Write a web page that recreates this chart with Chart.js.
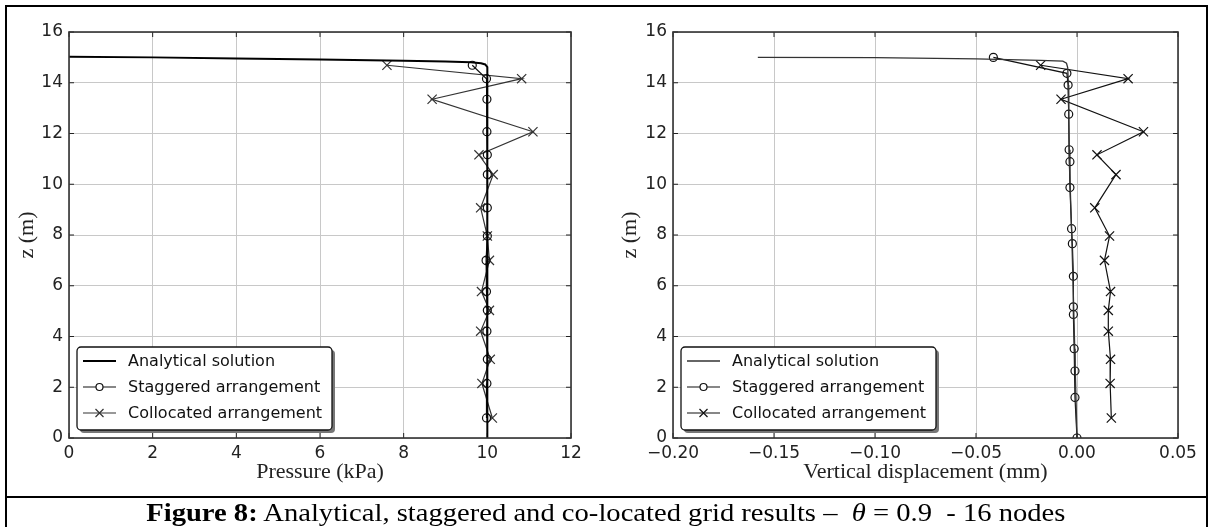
<!DOCTYPE html>
<html>
<head>
<meta charset="utf-8">
<script src="https://cdn.jsdelivr.net/npm/chart.js@4.4.1/dist/chart.umd.min.js"></script>
<style>
  html, body { margin: 0; padding: 0; background: #fff; }
  body { width: 1212px; height: 527px; position: relative; overflow: hidden; }
  .box { position: absolute; top: 0; width: 606px; height: 497px; }
  #left { left: 0; }
  #right { left: 606px; }
  #frame { position: absolute; left: 5px; top: 5px; width: 1203px; height: 540px; border: 2px solid #000; box-sizing: border-box; pointer-events: none; }
  #sep { position: absolute; left: 5px; top: 496px; width: 1203px; height: 2px; background: #000; }
  #caption { position: absolute; left: 0; top: 498px; width: 1212px; height: 29px; line-height: 29px; text-align: center;
    font-family: "Liberation Serif", "Times New Roman", serif; font-size: 26px; color: #000; white-space: pre; }
  #caption span { display: inline-block; transform: scaleX(1.1); }
</style>
</head>
<body>
<div class="box" id="left"><canvas id="pressureChart"></canvas></div>
<div class="box" id="right"><canvas id="dispChart"></canvas></div>
<div id="frame"></div>
<div id="sep"></div>
<div id="caption"><span><b>Figure 8:</b> Analytical, staggered and co-located grid results –  <i>θ</i> = 0.9  - 16 nodes</span></div>
<script>
// tick values
const zTicks = [0, 2, 4, 6, 8, 10, 12, 14, 16];
const pressureTicks = [0, 2, 4, 6, 8, 10, 12];
const dispTicks = [-0.20, -0.15, -0.10, -0.05, 0.00, 0.05];

// pressure plot
const analyticP = [0, 2, 4, 6, 8, 9, 9.6, 9.85, 9.95, 10, 10];
const analyticPZ = [15.02, 15.0, 14.96, 14.92, 14.87, 14.84, 14.81, 14.77, 14.72, 14.62, 0];
const cellZ = [14.69, 14.16, 13.35, 12.07, 11.16, 10.38, 9.07, 7.96, 7.0, 5.77, 5.03, 4.21, 3.10, 2.15, 0.79];
const staggeredP = [9.64, 9.98, 9.99, 9.99, 10.0, 10.0, 10.0, 10.0, 9.97, 9.98, 10.0, 9.99, 10.0, 9.99, 9.98];
const collocatedP = [7.60, 10.82, 8.68, 11.09, 9.80, 10.14, 9.84, 10.0, 10.05, 9.86, 10.05, 9.84, 10.07, 9.87, 10.12];

// displacement plot
const analyticD = [-0.158, -0.10, -0.05, -0.018, -0.007, -0.0052, -0.0046, -0.0043, -0.0038, -0.0026, -0.0016, -0.0008, 0.0];
const analyticDZ = [15.0, 14.99, 14.94, 14.88, 14.85, 14.77, 14.6, 14.0, 11.0, 8.0, 5.0, 2.5, 0.0];
const faceZ = [15.0, 14.37, 13.91, 12.76, 11.36, 10.89, 9.87, 8.25, 7.66, 6.37, 5.17, 4.87, 3.52, 2.64, 1.60, 0.0];
const staggeredD = [-0.0414, -0.005, -0.0044, -0.0041, -0.0039, -0.0035, -0.0035, -0.0027, -0.0023, -0.0018, -0.0018, -0.0018, -0.0014, -0.001, -0.001, 0.0];
const collocatedD = [-0.018, 0.0253, -0.0079, 0.0329, 0.0099, 0.0193, 0.0088, 0.0161, 0.0136, 0.0166, 0.0155, 0.0155, 0.0166, 0.0164, 0.017];

const seriesLabels = ["Analytical solution", "Staggered arrangement", "Collocated arrangement"];

Chart.defaults.font.family = "'DejaVu Sans', sans-serif";
Chart.defaults.color = "#222";

const pts = (xs, ys) => xs.map((x, i) => ({ x: x, y: ys[i] }));

// legend box in lower left of the plot, matplotlib style
const legendBox = {
  id: "legendBox",
  afterDraw(chart) {
    const { ctx, chartArea } = chart;
    const w = 255, h = 83;
    const x = chartArea.left + 8, y = chartArea.bottom - 8 - h;
    const rr = (px, py) => { ctx.beginPath(); ctx.roundRect(px, py, w, h, 4); };
    ctx.save();
    ctx.fillStyle = "#777";
    rr(x + 3, y + 3); ctx.fill();
    ctx.fillStyle = "#fff";
    rr(x, y); ctx.fill();
    ctx.strokeStyle = "#111"; ctx.lineWidth = 1.3;
    ctx.stroke();
    chart.data.datasets.forEach((ds, i) => {
      const cy = y + 14 + i * 26;
      ctx.strokeStyle = ds.borderColor;
      ctx.lineWidth = ds.borderWidth;
      ctx.beginPath(); ctx.moveTo(x + 6, cy); ctx.lineTo(x + 39, cy); ctx.stroke();
      ctx.lineWidth = 1.2;
      const mx = x + 22.5;
      if (ds.pointStyle === "circle" && ds.pointRadius > 0) {
        ctx.fillStyle = "#fff";
        ctx.beginPath(); ctx.arc(mx, cy, 3.5, 0, Math.PI * 2); ctx.fill(); ctx.stroke();
      } else if (ds.pointStyle === "crossRot" && ds.pointRadius > 0) {
        ctx.beginPath();
        ctx.moveTo(mx - 4, cy - 4); ctx.lineTo(mx + 4, cy + 4);
        ctx.moveTo(mx - 4, cy + 4); ctx.lineTo(mx + 4, cy - 4);
        ctx.stroke();
      }
      ctx.fillStyle = "#111";
      ctx.font = "16px 'DejaVu Sans'";
      ctx.textBaseline = "middle";
      ctx.fillText(ds.label, x + 51, cy + 1);
    });
    ctx.restore();
  }
};

// frame and inward tick marks
const axesFrame = {
  id: "axesFrame",
  beforeDatasetsDraw(chart) {
    const { ctx, chartArea: a, scales } = chart;
    ctx.save();
    ctx.strokeStyle = "#222"; ctx.lineWidth = 1;
    ctx.beginPath();
    scales.x.ticks.forEach(t => {
      const px = scales.x.getPixelForValue(t.value);
      ctx.moveTo(px, a.top); ctx.lineTo(px, a.top + 5);
      ctx.moveTo(px, a.bottom); ctx.lineTo(px, a.bottom - 5);
    });
    scales.y.ticks.forEach(t => {
      const py = scales.y.getPixelForValue(t.value);
      ctx.moveTo(a.left, py); ctx.lineTo(a.left + 5, py);
      ctx.moveTo(a.right, py); ctx.lineTo(a.right - 5, py);
    });
    ctx.stroke();
    ctx.restore();
  },
  afterDraw(chart) {
    const { ctx, chartArea: a } = chart;
    ctx.save();
    ctx.strokeStyle = "#333"; ctx.lineWidth = 1.6;
    ctx.strokeRect(a.left, a.top, a.right - a.left, a.bottom - a.top);
    ctx.restore();
  }
};

const makeChart = (id, { xTicks, xMin, xMax, xTitle, xFmt, yWidth, yTitlePad, padRight, datasets }) => {
  new Chart(id, {
    type: "scatter",
    data: { datasets },
    options: {
      responsive: true,
      maintainAspectRatio: false,
      animation: false,
      layout: { padding: { top: 32, right: padRight, left: 0, bottom: 0 } },
      plugins: { legend: { display: false }, tooltip: { enabled: false } },
      scales: {
        x: {
          type: "linear", min: xMin, max: xMax,
          afterBuildTicks: s => { s.ticks = xTicks.map(v => ({ value: v })); },
          afterFit: s => { s.height = 59; },
          grid: { color: "#c8c8c8", lineWidth: 1, drawTicks: false },
          border: { display: false },
          ticks: { padding: 5, font: { size: 17 }, color: "#222", maxRotation: 0, callback: xFmt },
          title: { display: true, text: xTitle, color: "#222", padding: { top: 0, bottom: 12 },
            font: { family: "'Liberation Serif', 'Times New Roman', serif", size: 22 } }
        },
        y: {
          type: "linear", min: 0, max: 16,
          afterBuildTicks: s => { s.ticks = zTicks.map(v => ({ value: v })); },
          afterFit: s => { s.width = yWidth; },
          grid: { color: "#c8c8c8", lineWidth: 1, drawTicks: false },
          border: { display: false },
          ticks: { padding: 6, font: { size: 17 }, color: "#222" },
          title: { display: true, text: "z (m)", color: "#222", padding: { top: yTitlePad, bottom: 0 },
            font: { family: "'Liberation Serif', 'Times New Roman', serif", size: 22 } }
        }
      }
    },
    plugins: [axesFrame, legendBox]
  });
};

const lineSet = (label, data, color, width, style, radius) => ({
  label, data, showLine: true, borderColor: color, borderWidth: width,
  pointStyle: style || "circle", pointRadius: radius || 0, pointBorderWidth: 1.2,
  pointBorderColor: color, pointBackgroundColor: "rgba(0,0,0,0)", tension: 0
});

makeChart("pressureChart", {
  xTicks: pressureTicks, xMin: 0, xMax: 12, xTitle: "Pressure (kPa)",
  xFmt: v => String(v), yWidth: 69, yTitlePad: 14, padRight: 35,
  datasets: [
    lineSet(seriesLabels[0], pts(analyticP, analyticPZ), "#000", 2),
    lineSet(seriesLabels[1], pts(staggeredP, cellZ), "#111", 1.2, "circle", 4),
    lineSet(seriesLabels[2], pts(collocatedP, cellZ), "#333", 1.2, "crossRot", 6.5)
  ]
});

makeChart("dispChart", {
  xTicks: dispTicks, xMin: -0.2, xMax: 0.05, xTitle: "Vertical displacement (mm)",
  xFmt: v => (v < -1e-9 ? "\u2212" : "") + Math.abs(v).toFixed(2),
  yWidth: 67, yTitlePad: 11, padRight: 34,
  datasets: [
    lineSet(seriesLabels[0], pts(analyticD, analyticDZ), "#333", 1.3),
    lineSet(seriesLabels[1], pts(staggeredD, faceZ), "#111", 1.2, "circle", 4),
    lineSet(seriesLabels[2], pts(collocatedD, cellZ), "#111", 1.2, "crossRot", 6.5)
  ]
});
</script>
</body>
</html>
